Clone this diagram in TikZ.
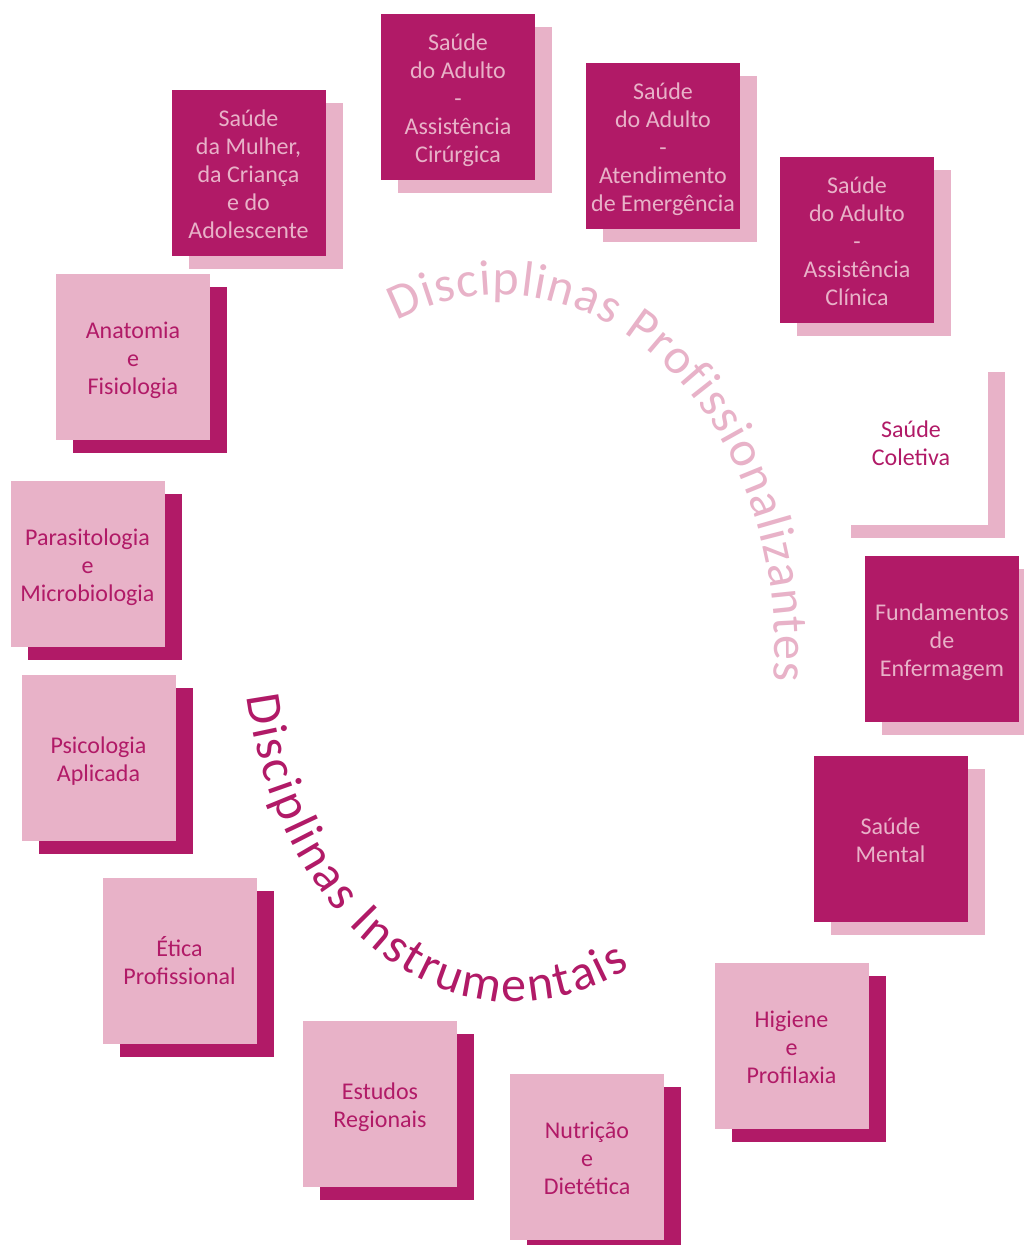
\documentclass[tikz,border=0pt]{standalone}
\usepackage{fontspec}
\setmainfont{Carlito}
\usetikzlibrary{shadows,decorations.text}
\definecolor{magD}{RGB}{177,26,103}
\definecolor{pinkL}{RGB}{232,178,200}
\newcommand\bxt[1]{\raisebox{-3.5pt}[\height][\depth]{\begin{tabular}{@{}c@{}}#1\end{tabular}}}
\begin{document}
\begin{tikzpicture}[x=1pt,y=1pt,
 box/.style={minimum width=154pt, minimum height=166pt, inner sep=0pt,
   font=\fontsize{24}{28}\selectfont,
   general shadow={shadow xshift=17pt, shadow yshift=-12.5pt, fill=#1}},
 darkbox/.style={box=pinkL, fill=magD, text=pinkL},
 lightbox/.style={box=magD, fill=pinkL, text=magD},
 whitebox/.style={box=pinkL, fill=white, text=magD}]
\useasboundingbox (0,0) rectangle (1024,-1245);
\clip (0,0) rectangle (1024,-1245);
\fill[white] (0,0) rectangle (1024,-1245);

% Disciplinas Profissionalizantes
\node[darkbox] (cir) at (458,-97) {\bxt{Saúde\\do Adulto\\-\\Assistência\\Cirúrgica}};
\node[darkbox] (emg) at (663,-146) {\bxt{Saúde\\do Adulto\\-\\Atendimento\\de Emergência}};
\node[darkbox] (mul) at (248.5,-173) {\bxt{Saúde\\da Mulher,\\da Criança\\e do\\Adolescente}};
\node[darkbox] (cli) at (857,-240) {\bxt{Saúde\\do Adulto\\-\\Assistência\\Clínica}};
\node[whitebox] (col) at (911,-442) {\bxt{Saúde\\Coletiva}};
\node[darkbox] (fun) at (942,-639) {\bxt{Fundamentos\\de\\Enfermagem}};
\node[darkbox] (men) at (890.5,-839) {\bxt{Saúde\\Mental}};

% Disciplinas Instrumentais
\node[lightbox] (ana) at (133,-357) {\bxt{Anatomia\\e\\Fisiologia}};
\node[lightbox] (par) at (87.5,-564) {\bxt{Parasitologia\\e\\Microbiologia}};
\node[lightbox] (psi) at (98.5,-758) {\bxt{Psicologia\\Aplicada}};
\node[lightbox] (eti) at (179.5,-961) {\bxt{Ética\\Profissional}};
\node[lightbox] (hig) at (791.5,-1046) {\bxt{Higiene\\e\\Profilaxia}};
\node[lightbox] (est) at (380,-1104) {\bxt{Estudos\\Regionais}};
\node[lightbox] (nut) at (587,-1157) {\bxt{Nutrição\\e\\Dietética}};

% curved titles
\coordinate (cp) at (500,-650);
\coordinate (ci) at (515,-632);
\path[decorate, decoration={text along path, text align=fit to path,
  text={|\fontsize{50}{60}\selectfont\color{pinkL}|Disciplinas Profissionalizantes}}]
  (cp) ++(112:275pt and 355pt) arc[start angle=112, end angle=-5, x radius=275pt, y radius=355pt];
\path[decorate, decoration={text along path, text align=fit to path,
  text={|\fontsize{50}{60}\selectfont\color{magD}|Disciplinas Instrumentais}}]
  (ci) ++(190:272pt and 370pt) arc[start angle=190, end angle=295, x radius=272pt, y radius=370pt];
\end{tikzpicture}
\end{document}
